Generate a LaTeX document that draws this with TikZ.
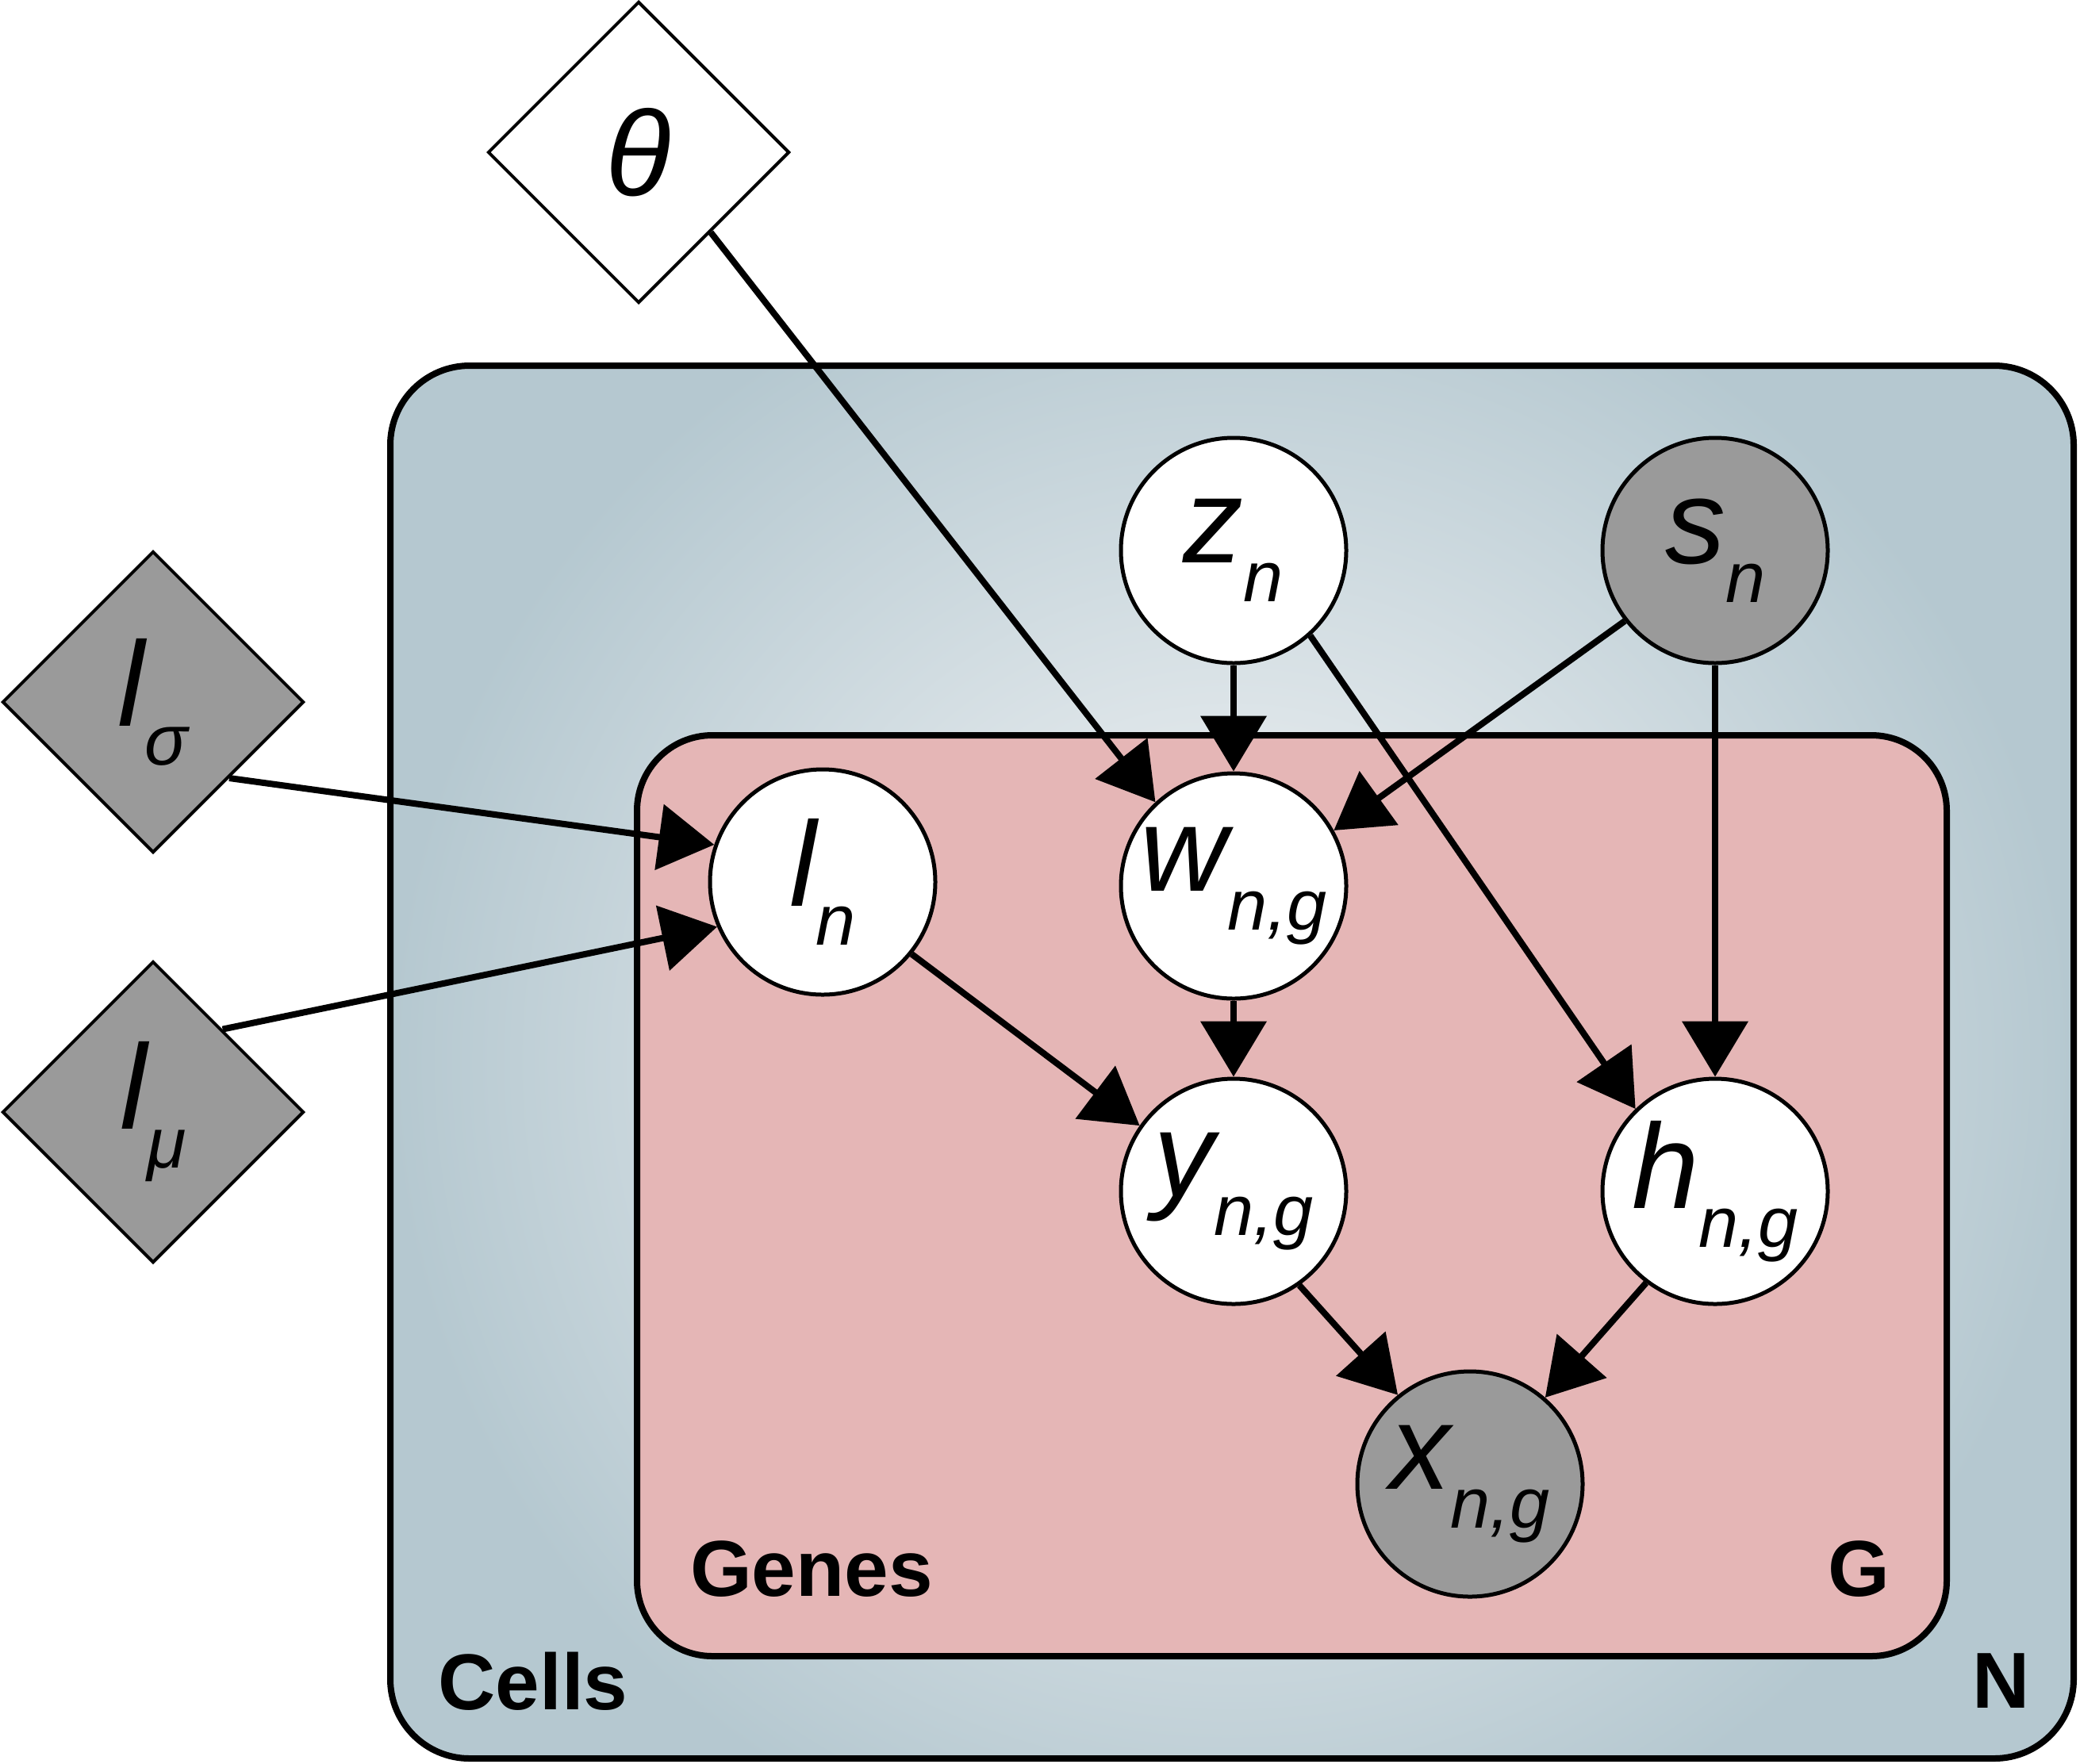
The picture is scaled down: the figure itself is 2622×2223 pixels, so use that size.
\documentclass[tikz,border=0pt]{standalone}
\usepackage{fontspec}
\setmainfont{Liberation Sans}
\usetikzlibrary{shapes.geometric,arrows.meta}
\definecolor{outerC}{HTML}{B5C8D0}
\definecolor{innerC}{HTML}{F8F8F9}
\definecolor{pinkC}{HTML}{E5B6B6}
\definecolor{grayC}{HTML}{9A9A9A}
\newcommand{\varlab}[2]{{\fontsize{76}{76}\selectfont\itshape #1}\raisebox{-24.5pt}{\fontsize{45}{45}\selectfont\itshape #2}}
\newcommand{\biglab}[1]{{\fontsize{50}{50}\selectfont\bfseries #1}}
\begin{document}
\begin{tikzpicture}[x=0.5pt,y=-0.5pt,
  var/.style={circle,draw,line width=2.5pt,fill=white,minimum size=142pt,inner sep=0pt},
  obs/.style={var,fill=grayC},
  hyper/.style={diamond,draw,line width=2pt,fill=white,minimum width=190pt,minimum height=190pt,inner sep=0pt,shape aspect=1},
  hyperobs/.style={hyper,fill=grayC},
  edge/.style={line width=4pt,-{Triangle[length=35pt,width=41pt]}},
  plate/.style={draw,line width=4pt},
]
\useasboundingbox (0,0) rectangle (2622,2223);
% outer plate (Cells) with radial gradient
\begin{scope}
  \clip[rounded corners=50pt] (492,461) rectangle (2614,2217);
  \fill[outerC] (492,461) rectangle (2614,2217);
  \shade[inner color=innerC, outer color=outerC] (1553,1339) circle (530.5pt);
\end{scope}
\draw[plate, rounded corners=50pt] (492,461) rectangle (2614,2217);
% inner plate (Genes)
\draw[plate, fill=pinkC, rounded corners=47.5pt] (803,927) rectangle (2454,2088);
% nodes
\node[hyper] (theta) at (805,192) {{\fontsize{76}{76}\selectfont\itshape θ}};
\node[hyperobs] (lsig) at (193,885) {\varlab{l}{σ}};
\node[hyperobs] (lmu) at (193,1402) {\varlab{l}{μ}};
\node[var] (z) at (1555,694) {\varlab{z}{n}};
\node[obs] (s) at (2162,694) {\varlab{s}{n}};
\node[var] (l) at (1037,1112) {\varlab{l}{n}};
\node[var] (w) at (1555,1117) {\varlab{w}{n,g}};
\node[var] (y) at (1555,1502) {\varlab{y}{n,g}};
\node[var] (h) at (2162,1502) {\varlab{h}{n,g}};
\node[obs] (x) at (1853,1871) {\varlab{x}{n,g}};
% plate labels
\node (genes) at (1023,1978) {\biglab{Genes}};
\node (G) at (2343,1978) {\biglab{G}};
\node (cells) at (672,2120) {\biglab{Cells}};
\node (N) at (2523,2119) {\biglab{N}};
% edges
\draw[edge] (theta.-48.7) -- (w.133.6);
\draw[edge] (lsig.-45.9) -- (l.161);
\draw[edge] (lmu.50) -- (l.203.2);
\draw[edge] (z.south) -- (w.north);
\draw[edge] (z.-48.4) -- (h.134.4);
\draw[edge] (s.218.7) -- (w.29.8);
\draw[edge] (s.south) -- (h.north);
\draw[edge] (w.south) -- (y.north);
\draw[edge] (l.-39.9) -- (y.145.5);
\draw[edge] (y.-55.9) -- (x.129.3);
\draw[edge] (h.233) -- (x.49.2);
\end{tikzpicture}
\end{document}
